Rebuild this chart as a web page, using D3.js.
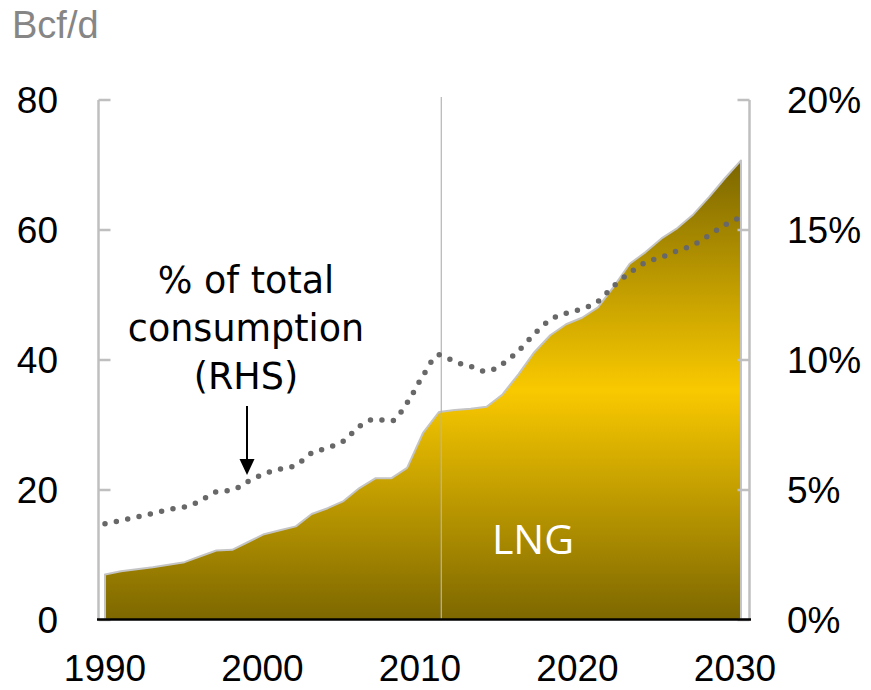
<!DOCTYPE html>
<html>
<head>
<meta charset="utf-8">
<script src="https://cdn.jsdelivr.net/npm/d3@7"></script>
<style>
  html, body { margin: 0; padding: 0; background: #fff; }
  svg { display: block; }
</style>
</head>
<body>
<svg id="chart" width="871" height="690"></svg>
<script>
// ---- Data ----
const years = d3.range(1990, 2031);
const lngBcfd = [
  7.0, 7.5, 7.8, 8.1, 8.5, 8.9, 9.8, 10.7, 10.8, 12.0,
  13.2, 13.8, 14.4, 16.3, 17.2, 18.3, 20.3, 21.8, 21.8, 23.4,
  28.8, 32.0, 32.3, 32.5, 32.8, 34.7, 37.8, 41.2, 43.8, 45.5,
  46.5, 48.1, 51.3, 54.8, 56.6, 58.7, 60.3, 62.4, 65.1, 68.0,
  70.7
];
const shareOfTotal = [
  3.70, 3.83, 3.96, 4.10, 4.25, 4.35, 4.58, 4.93, 5.00, 5.33,
  5.62, 5.80, 5.95, 6.42, 6.62, 6.88, 7.45, 7.72, 7.65, 8.35,
  9.40, 10.20, 9.93, 9.75, 9.56, 9.85, 10.35, 11.00, 11.55, 11.80,
  11.97, 12.25, 12.85, 13.35, 13.75, 13.95, 14.20, 14.42, 14.80, 15.20,
  15.50
];
const leftTicks = [0, 20, 40, 60, 80];
const rightTicks = [0, 5, 10, 15, 20];
const xTicks = [1990, 2000, 2010, 2020, 2030];
const dividerYear = 2011.15;
const unitLabel = "Bcf/d";
const seriesLabel = "LNG";
const annotationLines = ["% of total", "consumption", "(RHS)"];

// ---- Layout ----
const svg = d3.select("#chart");
const x = d3.scaleLinear().domain([1990, 2030]).range([105, 741]);
const yL = d3.scaleLinear().domain([0, 80]).range([620, 100]);
const yR = d3.scaleLinear().domain([0, 20]).range([620, 100]);

const defs = svg.append("defs");
const grad = defs.append("linearGradient")
  .attr("id", "lngGrad")
  .attr("x1", 0).attr("y1", 0).attr("x2", 0).attr("y2", 1);
grad.append("stop").attr("offset", "0%").attr("stop-color", "#7b6600");
grad.append("stop").attr("offset", "50%").attr("stop-color", "#f9c900");
grad.append("stop").attr("offset", "100%").attr("stop-color", "#7d6700");

const data = years.map((yr, i) => ({ yr, v: lngBcfd[i], p: shareOfTotal[i] }));

// Area
const area = d3.area().x(d => x(d.yr)).y0(yL(0)).y1(d => yL(d.v));
svg.append("path")
  .datum(data)
  .attr("d", area)
  .attr("fill", "url(#lngGrad)")
  .attr("stroke", "none");
// Area outline (left edge, top, right edge)
const outline = d3.line().x(d => d[0]).y(d => d[1]);
const outlinePts = [[x(1990), yL(0)]]
  .concat(data.map(d => [x(d.yr), yL(d.v)]))
  .concat([[x(2030), yL(0)]]);
svg.append("path")
  .attr("d", outline(outlinePts))
  .attr("fill", "none")
  .attr("stroke", "#c4c4c4")
  .attr("stroke-width", 2)
  .attr("stroke-linejoin", "round");

// Divider line
svg.append("line")
  .attr("x1", x(dividerYear)).attr("x2", x(dividerYear))
  .attr("y1", 97).attr("y2", 619)
  .attr("stroke", "#b5b5b5").attr("stroke-width", 1.2);

// Left axis
const leftAxis = svg.append("g").attr("transform", "translate(98.5,0)");
leftAxis.append("line").attr("x1", 0).attr("x2", 0).attr("y1", yL(80)).attr("y2", yL(0))
  .attr("stroke", "#bfbfbf").attr("stroke-width", 2.5);
leftAxis.selectAll("line.t").data(leftTicks).join("line").attr("class", "t")
  .attr("x1", 0).attr("x2", 12).attr("y1", d => yL(d)).attr("y2", d => yL(d))
  .attr("stroke", "#bfbfbf").attr("stroke-width", 2.5);
svg.selectAll("text.yl").data(leftTicks).join("text").attr("class", "yl")
  .attr("x", 58).attr("y", d => yL(d) + 13)
  .attr("text-anchor", "end")
  .attr("font-family", "Liberation Sans, Arial, sans-serif")
  .attr("font-size", 37).attr("fill", "#000")
  .text(d => d);

// Right axis
const rightAxis = svg.append("g").attr("transform", "translate(749.5,0)");
rightAxis.append("line").attr("x1", 0).attr("x2", 0).attr("y1", yR(20)).attr("y2", yR(0))
  .attr("stroke", "#bfbfbf").attr("stroke-width", 2.5);
rightAxis.selectAll("line.t").data(rightTicks).join("line").attr("class", "t")
  .attr("x1", -12).attr("x2", 0).attr("y1", d => yR(d)).attr("y2", d => yR(d))
  .attr("stroke", "#bfbfbf").attr("stroke-width", 2.5);
svg.selectAll("text.yr").data(rightTicks).join("text").attr("class", "yr")
  .attr("x", 787).attr("y", d => yR(d) + 13)
  .attr("text-anchor", "start")
  .attr("font-family", "Liberation Sans, Arial, sans-serif")
  .attr("font-size", 37).attr("fill", "#000")
  .text(d => d + "%");

// Baseline
svg.append("line").attr("x1", 97).attr("x2", 751).attr("y1", 619.5).attr("y2", 619.5)
  .attr("stroke", "#000").attr("stroke-width", 2.5);

// X labels
svg.selectAll("text.xl").data(xTicks).join("text").attr("class", "xl")
  .attr("x", d => x(d) - (d - 1990) * 0.15).attr("y", 681)
  .attr("text-anchor", "middle")
  .attr("font-family", "Liberation Sans, Arial, sans-serif")
  .attr("font-size", 37).attr("fill", "#000")
  .text(d => d);

// Dotted share line
const line = d3.line().x(d => x(d.yr)).y(d => yR(d.p)).curve(d3.curveMonotoneX);
svg.append("path")
  .datum(data)
  .attr("d", line)
  .attr("fill", "none")
  .attr("stroke", "#686868")
  .attr("stroke-width", 5.5)
  .attr("stroke-linecap", "round")
  .attr("stroke-dasharray", "0 11.6");

// Unit label
svg.append("text").attr("x", 12).attr("y", 38)
  .attr("font-family", "Liberation Sans, Arial, sans-serif")
  .attr("font-size", 38).attr("fill", "#868686")
  .text(unitLabel);

// Annotation (separate lines)
const annY = [293, 341, 389];
svg.selectAll("text.ann").data(annotationLines).join("text").attr("class", "ann")
  .attr("x", 246).attr("y", (d, i) => annY[i])
  .attr("text-anchor", "middle")
  .attr("font-family", "DejaVu Sans, sans-serif")
  .attr("font-size", 36.5).attr("fill", "#000")
  .text(d => d);

// Arrow
svg.append("line").attr("x1", 247).attr("x2", 247).attr("y1", 406).attr("y2", 462)
  .attr("stroke", "#000").attr("stroke-width", 2);
svg.append("path")
  .attr("d", d3.line()([[239.5, 459], [254.5, 459], [247, 475]]) + "Z")
  .attr("fill", "#000");

// Series label
svg.append("text").attr("x", 533).attr("y", 554)
  .attr("text-anchor", "middle")
  .attr("font-family", "Open Sans, Liberation Sans, sans-serif")
  .attr("font-size", 41).attr("fill", "#fff")
  .text(seriesLabel);
</script>
</body>
</html>
